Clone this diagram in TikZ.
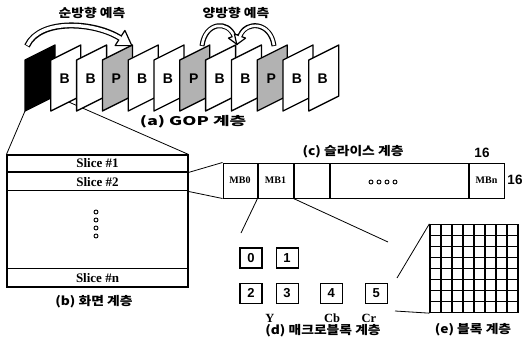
\documentclass[tikz,border=0pt]{standalone}
\usepackage{fontspec}
\setmainfont{Liberation Serif}
\newfontfamily\krfont[FakeStretch=1.15]{Noto Sans CJK KR}
\newfontfamily\krwide[FakeStretch=1.5]{Noto Sans CJK KR}
\newfontfamily\numfont{Liberation Sans}
\usetikzlibrary{positioning,backgrounds}
\tikzset{
  gopframe/.style={draw=black, line width=1.3pt, line join=round},
  gopletter/.style={inner sep=0pt, font=\numfont\bfseries\fontsize{14}{14}\selectfont},
  scrbox/.style={rectangle, draw=black, line width=1.1pt, minimum width=181pt, minimum height=132pt, inner sep=0pt},
  slicerow/.style={rectangle, draw=black, line width=1pt, minimum width=181pt, inner sep=0pt, font=\bfseries\fontsize{13}{13}\selectfont},
  mbcell/.style={rectangle, draw=black, line width=1pt, minimum height=35pt, inner sep=0pt, font=\bfseries\fontsize{10}{10}\selectfont},
  blkbox/.style={rectangle, draw=black, line width=1.1pt, minimum width=22pt, minimum height=20pt, inner sep=0pt, font=\numfont\bfseries\fontsize{13}{13}\selectfont},
  layercap/.style={inner sep=0pt, font=\krfont\bfseries\fontsize{12}{12}\selectfont},
  compcap/.style={inner sep=0pt, font=\bfseries\fontsize{12.5}{12.5}\selectfont},
  sizecap/.style={inner sep=0pt, font=\numfont\bfseries\fontsize{13.5}{13.5}\selectfont},
  ringdot/.style={circle, draw=black, line width=0.9pt, minimum size=4pt, inner sep=0pt},
  linkline/.style={line width=0.8pt},
  bandout/.style={line width=6pt},
  bandin/.style={white, line width=3.4pt, shorten >=-1pt, shorten <=0.8pt},
  bandhead/.style={draw=black, fill=white, line width=1.2pt, line join=round}
}
\begin{document}
\begin{tikzpicture}[x=1pt, y=-1pt]
\useasboundingbox (0,0) rectangle (527,356);

% (a) GOP
\foreach \c/\l [count=\k from 0] in {black/{},white/B,white/B,gray!60/P,white/B,white/B,gray!60/P,white/B,white/B,gray!60/P,white/B,white/B} {
  \pgfmathsetmacro\fx{25+25.8*\k}
  \coordinate (f\k-sw) at (\fx,111);
  \coordinate (f\k-se) at (\fx+30,96);
  \draw[gopframe, fill=\c] (\fx,60) -- (f\k-sw) -- (f\k-se) -- (\fx+30,45) -- cycle;
  \node[gopletter] (l\k) at (\fx+14,79) {\l};
}
\node[layercap, font=\krwide\bfseries\fontsize{12}{12}\selectfont] (capa) at (193,122) {(a) GOP 계층};

% prediction arrows
\node[layercap] (fwd) at (92,13) {순방향 예측};
\node[layercap] (bid) at (236,13) {양방향 예측};
\draw[bandout] (27,46) .. controls (40,18) and (95,22) .. (120,38);
\draw[bandhead] (124.9,30.4) -- (131.8,45.6) -- (115.1,45.6) -- cycle;
\draw[bandin] (27,46) .. controls (40,18) and (95,22) .. (120,38);
\draw[bandout, line width=5pt] (202,46) .. controls (205,22) and (228,20) .. (234,36);
\draw[bandhead] (239.6,33.9) -- (237.2,44.5) -- (228.4,38.1) -- cycle;
\draw[bandin, line width=2.6pt] (202,46) .. controls (205,22) and (228,20) .. (234,36);
\draw[bandout, line width=5pt] (274,46) .. controls (271,22) and (246,20) .. (240,36);
\draw[bandhead] (245.6,38.1) -- (236.8,44.5) -- (234.4,33.9) -- cycle;
\draw[bandin, line width=2.6pt] (274,46) .. controls (271,22) and (246,20) .. (240,36);

% (b) picture
\node[scrbox] (scr) at (97.5,221) {};
\node[slicerow, minimum height=17pt, below=0pt of scr.north] (s1) {Slice \#1};
\node[slicerow, minimum height=18pt, below=0pt of s1] (s2) {Slice \#2};
\node[slicerow, minimum height=19pt, above=0pt of scr.south] (sn) {Slice \#n};
\foreach \i in {0,...,3}
  \node[ringdot] (sd\i) at (96,212+8*\i) {};
\node[layercap] (capb) at (94,302) {(b) 화면 계층};

\begin{scope}[on background layer]
\draw[linkline] (f0-sw) -- (scr.north west);
\draw[linkline] (f0-se) -- (scr.north east);
\end{scope}

% (c) slice
\node[mbcell, minimum width=34pt] (mb0) at (240,180.5) {MB0};
\node[mbcell, minimum width=35pt, right=0pt of mb0] (mb1) {MB1};
\node[mbcell, minimum width=35pt, right=0pt of mb1] (mbe) {};
\node[mbcell, minimum width=138pt, right=0pt of mbe] (mbd) {};
\node[mbcell, minimum width=35pt, right=0pt of mbd] (mbn) {MBn};
\foreach \i in {0,...,3}
  \node[ringdot] (md\i) at (371+8*\i,182) {};
\node[layercap] (capc) at (353,152) {(c) 슬라이스 계층};
\node[sizecap] (wid) at (482,153) {16};
\node[sizecap] (hgt) at (515,180) {16};
\draw[linkline] (s2.north east) -- (mb0.north west);
\draw[linkline] (s2.south east) -- (mb0.south west);

% (d) macroblock
\node[blkbox] (b0) at (251,258) {0};
\node[blkbox, right=13pt of b0] (b1) {1};
\node[blkbox, below=14pt of b0] (b2) {2};
\node[blkbox, right=13pt of b2] (b3) {3};
\node[blkbox, right=21pt of b3] (b4) {4};
\node[blkbox, right=22pt of b4] (b5) {5};
\node[compcap] (cy) at (270,318) {Y};
\node[compcap] (ccb) at (332,318) {Cb};
\node[compcap] (ccr) at (369,318) {Cr};
\node[layercap] (capd) at (323,331) {(d) 매크로블록 계층};
\coordinate (dtop) at (241,233);
\coordinate (dright) at (388,242);
\draw[linkline] (mb1.south west) -- (dtop);
\draw[linkline] (mb1.south east) -- (dright);

% (e) block
\node[rectangle, draw=black, line width=1.3pt, minimum size=88pt, inner sep=0pt] (blk) at (474,268.5) {};
\foreach \i in {1,...,7} {
  \draw[line width=1.2pt] (430+11*\i,224.5) -- ++(0,88);
  \draw[line width=1.2pt] (430,224.5+11*\i) -- ++(88,0);
}
\node[layercap] (cape) at (473,330) {(e) 블록 계층};
\coordinate (etop) at (397,278);
\coordinate (ebot) at (395,311);
\draw[linkline] (etop) -- (blk.north west);
\draw[linkline] (ebot) -- (blk.south west);
\end{tikzpicture}
\end{document}
